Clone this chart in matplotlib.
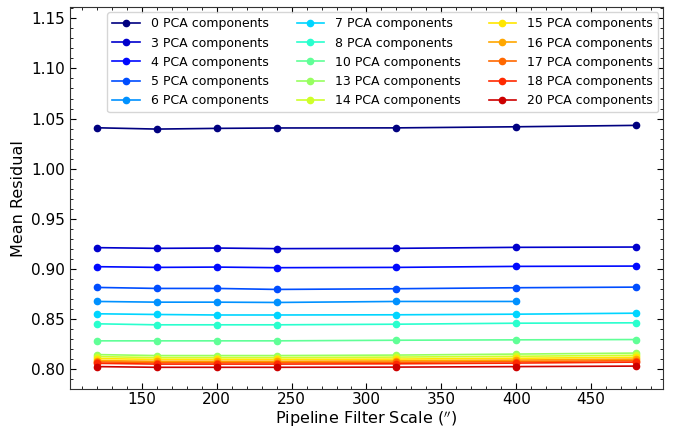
import numpy as np
import matplotlib
matplotlib.use('Agg')
import matplotlib.pyplot as plt
from matplotlib.ticker import AutoMinorLocator

scales = [120, 160, 200, 240, 320, 400, 480]
n_pca = [0, 3, 4, 5, 6, 7, 8, 10, 13, 14, 15, 16, 17, 18, 20]

res_0 = [1.0408, 1.0395, 1.0402, 1.0406, 1.0407, 1.0418, 1.0432]
res_3 = [0.9212, 0.9205, 0.9208, 0.9202, 0.9205, 0.9215, 0.9218]
res_4 = [0.9022, 0.9015, 0.9018, 0.9012, 0.9015, 0.9025, 0.9028]
res_5 = [0.8815, 0.8805, 0.8805, 0.8795, 0.8802, 0.8812, 0.8818]
res_6 = [0.8675, 0.8668, 0.8668, 0.8665, 0.8675, 0.8675]
res_7 = [0.8552, 0.8545, 0.8540, 0.8540, 0.8542, 0.8548, 0.8558]
res_8 = [0.8452, 0.8442, 0.8442, 0.8442, 0.8448, 0.8458, 0.8462]
res_10 = [0.8282, 0.8282, 0.8282, 0.8282, 0.8288, 0.8292, 0.8295]
res_13 = [0.8145, 0.8135, 0.8135, 0.8135, 0.8140, 0.8150, 0.8160]
res_14 = [0.8125, 0.8115, 0.8115, 0.8115, 0.8120, 0.8128, 0.8138]
res_15 = [0.8105, 0.8097, 0.8097, 0.8097, 0.8100, 0.8108, 0.8118]
res_16 = [0.8085, 0.8078, 0.8078, 0.8078, 0.8082, 0.8090, 0.8100]
res_17 = [0.8072, 0.8065, 0.8065, 0.8065, 0.8068, 0.8075, 0.8085]
res_18 = [0.8058, 0.8050, 0.8050, 0.8050, 0.8053, 0.8060, 0.8070]
res_20 = [0.8025, 0.8018, 0.8018, 0.8018, 0.8020, 0.8025, 0.8030]

residuals = [res_0, res_3, res_4, res_5, res_6, res_7, res_8, res_10,
             res_13, res_14, res_15, res_16, res_17, res_18, res_20]

colors = plt.cm.jet(np.arange(len(n_pca)) / 15.0)

fig = plt.figure(figsize=(6.85, 4.3), dpi=100)
ax = fig.add_axes([0.102, 0.095, 0.866, 0.888])

for n, res, c in zip(n_pca, residuals, colors):
    ax.plot(scales[:len(res)], res, '-o', color=c, lw=1.2, ms=4.5,
            label='%d PCA components' % n)

ax.set_xlim(102, 498)
ax.set_ylim(0.780, 1.161)
ax.xaxis.set_minor_locator(AutoMinorLocator(5))
ax.yaxis.set_minor_locator(AutoMinorLocator(5))
ax.tick_params(which='both', direction='in', top=True, right=True, labelsize=11)
ax.tick_params(which='major', length=4)
ax.tick_params(which='minor', length=2)
ax.tick_params(axis='x', pad=2)
for s in ax.spines.values():
    s.set_color('#333333')

ax.set_xlabel(r"Pipeline Filter Scale ($''$)", fontsize=11.5, labelpad=1)
ax.set_ylabel('Mean Residual', fontsize=11.5)
ax.legend(loc='upper right', ncol=3, fontsize=9, handlelength=2.2,
          handletextpad=0.9, columnspacing=2.2, labelspacing=0.5,
          borderaxespad=0.4)

fig.savefig('out.png', dpi=100)
